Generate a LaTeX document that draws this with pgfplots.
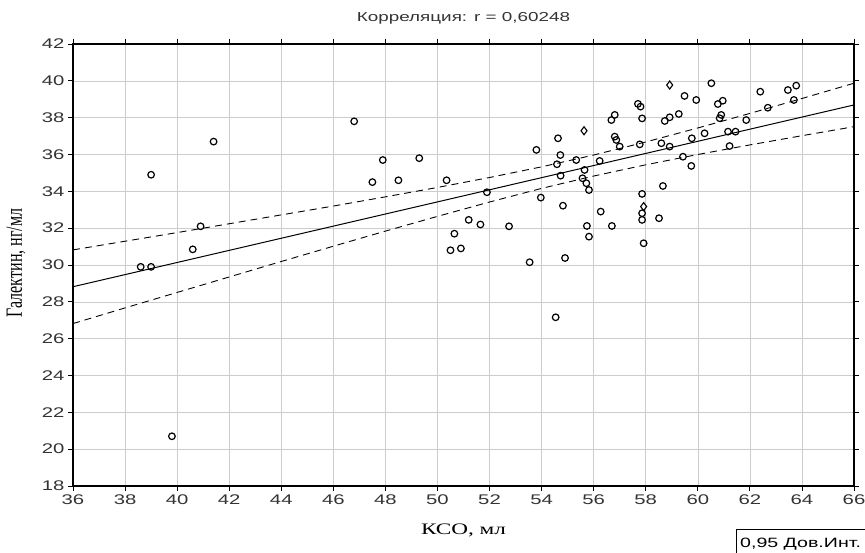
\documentclass[border=0pt]{standalone}
\usepackage{fontspec}
\usepackage{graphicx}
\usepackage{pgfplots}
\pgfplotsset{compat=1.18}
\setmainfont{Liberation Serif}
\newfontfamily\chartsans[FakeStretch=1.45]{Liberation Sans}
\newfontfamily\chartserif[FakeStretch=1.45]{Liberation Serif}
\begin{document}
\begin{tikzpicture}
\begin{axis}[
  at={(0pt,0pt)}, anchor=south west,
  scale only axis, width=781pt, height=442pt,
  xmin=36, xmax=66, ymin=18, ymax=42,
  xtick={36,38,...,66}, ytick={18,20,...,42},
  grid=major, major grid style={gray!40, line width=0.6pt},
  axis line style={line width=1.3pt},
  tick align=outside, tick pos=both, major tick length=5pt,
  tick style={black, line width=0.8pt},
  /pgf/number format/assume math mode=true,
  ticklabel style={font=\chartsans\fontsize{14}{14}\selectfont, text=black!80},
]
% regression line
\addplot[black, line width=1pt] coordinates {(36,28.82) (66,38.69)};
% confidence bands
\addplot[black, line width=0.9pt, dash pattern=on 7pt off 5pt] coordinates {
(36,30.82) (38,31.29) (40,31.76) (42,32.24) (44,32.72) (46,33.20) (48,33.70) (50,34.21)
(52,34.75) (54,35.33) (56,35.97) (58,36.68) (60,37.44) (62,38.23) (64,39.04) (66,39.87)};
\addplot[black, line width=0.9pt, dash pattern=on 7pt off 5pt] coordinates {
(36,26.82) (38,27.67) (40,28.51) (42,29.35) (44,30.19) (46,31.02) (48,31.84) (50,32.64)
(52,33.42) (54,34.16) (56,34.83) (58,35.44) (60,36.00) (62,36.52) (64,37.02) (66,37.51)};
% circles
\addplot[only marks, mark=o, mark size=3.3pt, mark options={black, line width=1.2pt}] coordinates {
(39.0,34.9) (41.4,36.7) (40.9,32.1) (40.6,30.85) (38.6,29.9) (39.0,29.9) (39.8,20.7)
(46.8,37.8) (47.9,35.7) (49.3,35.8) (47.5,34.5) (48.5,34.6) (50.35,34.6) (51.9,33.95)
(51.2,32.45) (51.65,32.2) (52.75,32.1) (50.65,31.7) (50.5,30.8) (50.9,30.9)
(57.7,38.75) (57.8,38.6) (56.81,38.15) (56.68,37.87) (57.86,37.96) (58.73,37.82) (58.92,38.02)
(54.63,36.88) (56.81,36.97) (56.87,36.79) (57.0,36.43) (57.77,36.55) (58.6,36.61) (58.92,36.43)
(53.8,36.25) (54.72,35.97) (55.33,35.70) (54.59,35.47) (56.23,35.65) (55.65,35.16) (54.73,34.85)
(55.57,34.71) (55.72,34.44) (55.82,34.07) (58.66,34.29) (53.97,33.66) (57.86,33.86) (54.82,33.22)
(56.27,32.9) (57.86,32.81) (58.51,32.54) (57.86,32.45) (55.74,32.12) (56.7,32.12) (55.82,31.54)
(57.92,31.18) (53.54,30.15) (54.9,30.38) (54.54,27.16)
(60.52,39.87) (59.49,39.18) (59.94,38.96) (60.77,38.74) (60.96,38.92) (62.4,39.41) (63.46,39.5)
(63.78,39.74) (63.69,38.96) (62.69,38.54) (59.27,38.2) (60.84,37.97) (60.9,38.15) (61.86,37.87)
(60.26,37.15) (59.77,36.88) (61.16,37.24) (61.45,37.24) (61.22,36.46) (59.43,35.88) (59.75,35.38)};
% diamonds
\addplot[only marks, mark=diamond, mark size=4pt, mark options={black, line width=1.1pt}] coordinates {
(58.92,39.77) (55.63,37.29) (57.92,33.17)};
\end{axis}
\pgfresetboundingbox
\useasboundingbox (-73pt,-67pt) rectangle (792pt,486pt);
\node[font=\chartsans\fontsize{13}{13}\selectfont, text=black!80] at (390.5pt,468pt) {Корреляция: r = 0,60248};
\node[font=\chartserif\fontsize{16}{16}\selectfont] at (390.5pt,-44pt) {КСО, мл};
\node[rotate=90, font=\fontsize{16}{16}\selectfont] at (-57pt,223pt) {\scalebox{1}[1.45]{Галектин, нг/мл}};
\draw[line width=0.9pt] (663pt,-100pt) rectangle (900pt,-43pt);
\node[anchor=base west, inner sep=0pt, font=\chartsans\fontsize{13.5}{13.5}\selectfont] at (667pt,-62pt) {0,95 Дов.Инт.};
\end{tikzpicture}
\end{document}
